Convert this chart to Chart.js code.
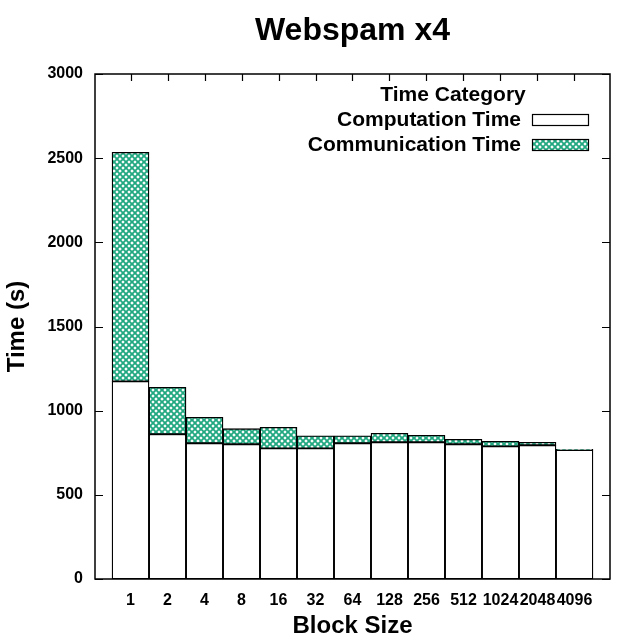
<!DOCTYPE html>
<html lang="en">
<head>
    <meta charset="UTF-8">
    <title>Webspam x4</title>
    <script src="https://cdn.jsdelivr.net/npm/chart.js"></script>
    <style>
        body { margin: 0; background: #fff; }
        canvas { display: block; }
    </style>
</head>
<body>
    <canvas id="chart" width="640" height="640"></canvas>

    <script>
        // Data
        const blockSizes = ['1', '2', '4', '8', '16', '32', '64', '128', '256', '512', '1024', '2048', '4096'];
        const computationTime = [1174, 860, 806, 800, 776, 776, 806, 812, 812, 800, 788, 794, 766];
        const communicationTime = [1361, 279, 155, 93, 125, 75, 45, 54, 42, 30, 30, 18, 4];
        const yTicks = [0, 500, 1000, 1500, 2000, 2500, 3000];

        const FONT = '"Liberation Sans", Arial, sans-serif';
        const TEAL = '#22a881';

        // cross-hatch fill like gnuplot's pattern
        function makeHatch() {
            const c = document.createElement('canvas');
            c.width = 6;
            c.height = 6;
            const g = c.getContext('2d');
            g.fillStyle = '#fff';
            g.fillRect(0, 0, 6, 6);
            g.strokeStyle = TEAL;
            g.lineWidth = 1.9;
            g.beginPath();
            g.moveTo(0, 0); g.lineTo(6, 6);
            g.moveTo(6, 0); g.lineTo(0, 6);
            g.stroke();
            return g.createPattern(c, 'repeat');
        }
        const ctx = document.getElementById('chart').getContext('2d');
        const hatch = makeHatch();

        // border, inward ticks, title and legend
        const frame = {
            id: 'frame',
            afterDraw(chart) {
                const c = chart.ctx;
                const a = chart.chartArea;
                const xs = chart.scales.x;
                const ys = chart.scales.y;
                c.save();
                c.strokeStyle = '#000';
                c.lineWidth = 1.5;
                c.strokeRect(a.left, a.top, a.right - a.left, a.bottom - a.top);

                c.beginPath();
                yTicks.forEach(v => {
                    const y = Math.round(ys.getPixelForValue(v)) + 0.5;
                    c.moveTo(a.left, y); c.lineTo(a.left + 8, y);
                    c.moveTo(a.right, y); c.lineTo(a.right - 8, y);
                });
                blockSizes.forEach((_, i) => {
                    const x = Math.round(xs.getPixelForValue(i)) + 0.5;
                    c.moveTo(x, a.top); c.lineTo(x, a.top + 7);
                });
                c.lineWidth = 1.2;
                c.stroke();

                // title
                c.fillStyle = '#000';
                c.font = 'bold 32px ' + FONT;
                c.textAlign = 'center';
                c.textBaseline = 'middle';
                c.fillText('Webspam x4', (a.left + a.right) / 2, 31);

                // legend
                c.font = 'bold 21px ' + FONT;
                c.fillText('Time Category', 453, 95);
                c.textAlign = 'right';
                c.fillText('Computation Time', 521, 120);
                c.fillText('Communication Time', 521, 145);
                c.lineWidth = 1.2;
                c.fillStyle = '#fff';
                c.fillRect(532.5, 114.5, 56, 11);
                c.strokeRect(532.5, 114.5, 56, 11);
                c.fillStyle = hatch;
                c.fillRect(532.5, 139.5, 56, 11);
                c.strokeRect(532.5, 139.5, 56, 11);
                c.restore();
            }
        };

        new Chart(ctx, {
            type: 'bar',
            data: {
                datasets: [
                    {
                        label: 'Computation Time',
                        data: computationTime.map((v, i) => ({ x: i, y: v })),
                        backgroundColor: '#fff',
                        borderColor: '#000',
                        borderWidth: 1.3,
                        borderSkipped: false,
                        barPercentage: 1,
                        categoryPercentage: 1
                    },
                    {
                        label: 'Communication Time',
                        data: communicationTime.map((v, i) => ({ x: i, y: v })),
                        backgroundColor: hatch,
                        borderColor: '#000',
                        borderWidth: 1.3,
                        borderSkipped: false,
                        barPercentage: 1,
                        categoryPercentage: 1
                    }
                ]
            },
            options: {
                responsive: false,
                animation: false,
                layout: { padding: { top: 74, right: 30, left: 0, bottom: 0 } },
                plugins: {
                    legend: { display: false },
                    title: { display: false },
                    tooltip: { enabled: false }
                },
                scales: {
                    x: {
                        type: 'linear',
                        stacked: true,
                        min: -0.96,
                        max: 12.96,
                        offset: false,
                        grid: { display: false, drawTicks: false },
                        border: { display: false },
                        afterBuildTicks: s => { s.ticks = blockSizes.map((_, i) => ({ value: i })); },
                        afterFit: s => { s.height = 61; },
                        ticks: {
                            autoSkip: false,
                            maxRotation: 0,
                            padding: 12,
                            color: '#000',
                            font: { family: FONT, size: 16, weight: 'bold' },
                            callback: v => blockSizes[v]
                        },
                        title: {
                            display: true,
                            text: 'Block Size',
                            color: '#000',
                            padding: { top: 0, bottom: -1 },
                            font: { family: FONT, size: 24, weight: 'bold' }
                        }
                    },
                    y: {
                        stacked: true,
                        min: 0,
                        max: 3000,
                        grid: { display: false, drawTicks: false },
                        border: { display: false },
                        afterBuildTicks: s => { s.ticks = yTicks.map(v => ({ value: v })); },
                        afterFit: s => { s.width = 95; },
                        ticks: {
                            padding: 12,
                            color: '#000',
                            font: { family: FONT, size: 16, weight: 'bold' },
                            callback: v => String(v)
                        },
                        title: {
                            display: true,
                            text: 'Time (s)',
                            color: '#000',
                            padding: { top: 3, bottom: 0 },
                            font: { family: FONT, size: 24, weight: 'bold' }
                        }
                    }
                }
            },
            plugins: [frame]
        });
    </script>
</body>
</html>
